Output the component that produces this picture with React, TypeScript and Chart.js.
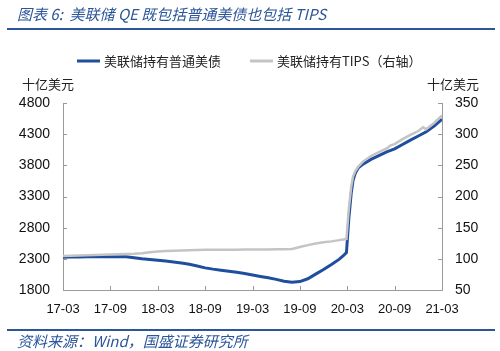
import { useEffect, useRef } from 'react';
import { Chart, registerables } from 'chart.js';

Chart.register(...registerables);

const dates = [
  '2017-03-01', '2017-04-01', '2017-05-01', '2017-06-01', '2017-07-01', '2017-08-01',
  '2017-09-01', '2017-10-01', '2017-11-01', '2017-12-01', '2018-01-01', '2018-02-01',
  '2018-03-01', '2018-04-01', '2018-05-01', '2018-06-01', '2018-07-01', '2018-08-01',
  '2018-09-01', '2018-10-01', '2018-11-01', '2018-12-01', '2019-01-01', '2019-02-01',
  '2019-03-01', '2019-04-01', '2019-05-01', '2019-06-01', '2019-07-01', '2019-08-01',
  '2019-09-01', '2019-10-01', '2019-11-01', '2019-12-01', '2020-01-01', '2020-02-01',
  '2020-02-16', '2020-02-28', '2020-03-07', '2020-03-16', '2020-03-23', '2020-04-01',
  '2020-04-13', '2020-05-01', '2020-06-01', '2020-07-01', '2020-08-01', '2020-08-16',
  '2020-09-01', '2020-10-01', '2020-11-01', '2020-12-01', '2020-12-19', '2021-01-01',
  '2021-02-01', '2021-03-01',
];

// 美联储持有普通美债（十亿美元，左轴）
const nominalValues = [
  2325, 2328, 2330, 2332, 2333, 2335,
  2335, 2335, 2332, 2318, 2300, 2290,
  2278, 2265, 2250, 2232, 2212, 2185,
  2155, 2135, 2118, 2102, 2085, 2065,
  2042, 2018, 1995, 1970, 1940, 1925,
  1935, 1980, 2055, 2130, 2210, 2295,
  2350, 2400, 2950, 3350, 3560, 3670,
  3760, 3820, 3895, 3955, 4015, 4040,
  4065, 4135, 4205, 4270, 4310, 4340,
  4430, 4540,
];

// 美联储持有TIPS（十亿美元，右轴）
const tipsValues = [
  104.5, 104.8, 105.2, 105.6, 106.0, 106.5,
  107.0, 107.5, 107.8, 108.2, 108.9, 110.5,
  111.8, 112.4, 112.9, 113.4, 113.8, 114.2,
  114.5, 114.6, 114.6, 114.7, 114.7, 114.8,
  114.9, 115.0, 115.1, 115.3, 115.5, 115.8,
  119, 122, 124.5, 126.5, 128, 130,
  131, 132, 180, 215, 232, 240,
  248, 256, 265, 271, 277, 282,
  284, 292, 299, 305, 311, 308,
  318, 330,
];

const xTickLabels = ['17-03', '17-09', '18-03', '18-09', '19-03', '19-09', '20-03', '20-09', '21-03'];
const leftAxis = { min: 1800, max: 4800, step: 500 };
const rightAxis = { min: 50, max: 350, step: 50 };

const seriesNames = ['美联储持有普通美债', '美联储持有TIPS（右轴）'];
const titleText = '图表 6:  美联储 QE 既包括普通美债也包括 TIPS';
const sourceText = '资料来源：Wind，国盛证券研究所';
const unitText = '十亿美元';

const BLUE = '#1F4E9E';
const GRAY = '#C4C4C4';
const THEME = '#2C5699';
const AXIS = '#9A9A9A';
const CJK = '"Noto Sans CJK SC", "Liberation Sans", sans-serif';
const NUM = '"Liberation Sans", Arial, sans-serif';

function monthIndex(d: string): number {
  const [y, m, day] = d.split('-').map(Number);
  return (y - 2017) * 12 + (m - 3) + (day - 1) / 30;
}

const decorPlugin = {
  id: 'decor',
  afterDraw(chart: any) {
    const ctx = chart.ctx as CanvasRenderingContext2D;
    const area = chart.chartArea;
    ctx.save();

    // title
    ctx.fillStyle = THEME;
    ctx.font = `italic 15px ${CJK}`;
    ctx.textBaseline = 'middle';
    ctx.textAlign = 'left';
    ctx.fillText(titleText, 17, 14);
    ctx.strokeStyle = THEME;
    ctx.lineWidth = 2;
    ctx.beginPath();
    ctx.moveTo(7, 29);
    ctx.lineTo(495, 29);
    ctx.stroke();

    // legend
    ctx.lineWidth = 3;
    ctx.strokeStyle = BLUE;
    ctx.beginPath();
    ctx.moveTo(77, 61);
    ctx.lineTo(100, 61);
    ctx.stroke();
    ctx.strokeStyle = GRAY;
    ctx.beginPath();
    ctx.moveTo(250, 61);
    ctx.lineTo(273, 61);
    ctx.stroke();
    ctx.fillStyle = '#222';
    ctx.font = `13px ${CJK}`;
    ctx.fillText(seriesNames[0], 104, 61);
    ctx.fillText(seriesNames[1], 277, 61);

    // unit labels
    ctx.font = `13px ${CJK}`;
    ctx.fillText(unitText, 22, 84);
    ctx.fillText(unitText, 427, 84);

    // inner tick marks
    ctx.strokeStyle = AXIS;
    ctx.lineWidth = 1;
    const y = chart.scales.y;
    const y1 = chart.scales.y1;
    const x = chart.scales.x;
    ctx.beginPath();
    y.ticks.forEach((t: any) => {
      const py = Math.round(y.getPixelForValue(t.value)) + 0.5;
      ctx.moveTo(area.left, py);
      ctx.lineTo(area.left + 4, py);
    });
    y1.ticks.forEach((t: any) => {
      const py = Math.round(y1.getPixelForValue(t.value)) + 0.5;
      ctx.moveTo(area.right, py);
      ctx.lineTo(area.right - 4, py);
    });
    x.ticks.forEach((t: any) => {
      const px = Math.round(x.getPixelForValue(t.value)) + 0.5;
      ctx.moveTo(px, area.bottom);
      ctx.lineTo(px, area.bottom - 4);
    });
    ctx.stroke();

    // footer
    ctx.strokeStyle = THEME;
    ctx.lineWidth = 2;
    ctx.beginPath();
    ctx.moveTo(7, 330);
    ctx.lineTo(495, 330);
    ctx.stroke();
    ctx.fillStyle = THEME;
    ctx.font = `italic 15px ${CJK}`;
    ctx.fillText(sourceText, 17, 341);

    ctx.restore();
  },
};

export default function App() {
  const canvasRef = useRef<HTMLCanvasElement | null>(null);

  useEffect(() => {
    const canvas = canvasRef.current;
    if (!canvas) return;
    const xs = dates.map(monthIndex);
    const chart = new Chart(canvas, {
      type: 'line',
      data: {
        datasets: [
          {
            label: seriesNames[0],
            data: xs.map((xv, i) => ({ x: xv, y: nominalValues[i] })),
            borderColor: BLUE,
            borderWidth: 3,
            pointRadius: 0,
            tension: 0,
            yAxisID: 'y',
            order: 2,
          },
          {
            label: seriesNames[1],
            data: xs.map((xv, i) => ({ x: xv, y: tipsValues[i] })),
            borderColor: GRAY,
            borderWidth: 2.5,
            pointRadius: 0,
            tension: 0,
            yAxisID: 'y1',
            order: 1,
          },
        ],
      },
      options: {
        responsive: false,
        animation: false,
        devicePixelRatio: 1,
        layout: { padding: { top: 103, left: 0, right: 0, bottom: 0 } },
        plugins: {
          legend: { display: false },
          tooltip: { enabled: false },
          title: { display: false },
        },
        scales: {
          x: {
            type: 'linear',
            min: 0,
            max: 48,
            grid: { display: false, drawTicks: false },
            border: { display: true, color: AXIS, width: 1 },
            ticks: {
              stepSize: 6,
              padding: 12,
              autoSkip: false,
              maxRotation: 0,
              color: '#111',
              font: { family: NUM, size: 13 },
              callback: (v: any) => xTickLabels[Math.round(Number(v) / 6)] ?? '',
            },
            afterFit: (s: any) => { s.height = 61; },
          },
          y: {
            position: 'left',
            min: leftAxis.min,
            max: leftAxis.max,
            grid: { display: false, drawTicks: false },
            border: { display: true, color: AXIS, width: 1 },
            ticks: {
              stepSize: leftAxis.step,
              padding: 13,
              color: '#111',
              font: { family: NUM, size: 14 },
              callback: (v: any) => String(v),
            },
            afterFit: (s: any) => { s.width = 63; },
          },
          y1: {
            position: 'right',
            min: rightAxis.min,
            max: rightAxis.max,
            grid: { display: false, drawTicks: false },
            border: { display: true, color: AXIS, width: 1 },
            ticks: {
              stepSize: rightAxis.step,
              padding: 13,
              color: '#111',
              font: { family: NUM, size: 14 },
              callback: (v: any) => String(v),
            },
            afterFit: (s: any) => { s.width = 58; },
          },
        },
      },
      plugins: [decorPlugin],
    });
    return () => chart.destroy();
  }, []);

  return (
    <div style={{ position: 'absolute', left: 0, top: 0, width: 500, height: 351, background: '#fff' }}>
      <canvas ref={canvasRef} width={500} height={351} style={{ display: 'block', width: 500, height: 351 }} />
    </div>
  );
}
